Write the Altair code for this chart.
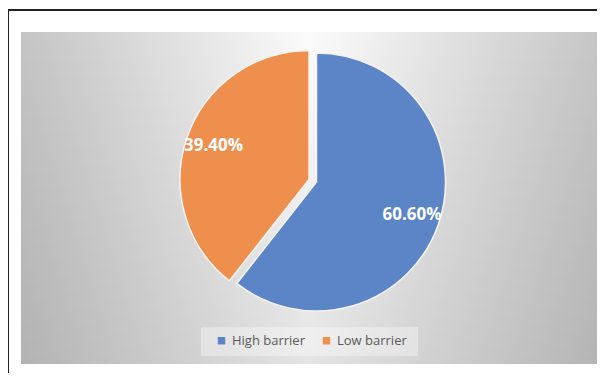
import altair as alt
import pandas as pd

categories = ["High barrier", "Low barrier"]
values = [60.6, 39.4]
colors = ["#5b85c6", "#ef8f4e"]

df = pd.DataFrame({"category": categories, "value": values})
one = pd.DataFrame({"k": [0]})

W, H = 589, 363
R = 129

border_top = alt.Chart(one).mark_rule(color="#222222", strokeWidth=2).encode(
    x=alt.value(-1), x2=alt.value(W + 5), y=alt.value(0)
)
border_left = alt.Chart(one).mark_rule(color="#222222", strokeWidth=2).encode(
    x=alt.value(0), y=alt.value(0), y2=alt.value(H + 5)
)

bg = alt.Chart(one).mark_rect(
    fill=alt.LinearGradient(
        gradient="linear", x1=0, y1=0, x2=1, y2=0,
        stops=[alt.GradientStop(offset=0, color="#c4c4c4"),
               alt.GradientStop(offset=0.5, color="#fbfbfb"),
               alt.GradientStop(offset=1, color="#c6c6c6")]
    )
).encode(x=alt.value(13), x2=alt.value(590), y=alt.value(22), y2=alt.value(354))

shade = alt.Chart(one).mark_rect(
    fill=alt.LinearGradient(
        gradient="linear", x1=0, y1=0, x2=0, y2=1,
        stops=[alt.GradientStop(offset=0, color="rgba(0,0,0,0)"),
               alt.GradientStop(offset=1, color="rgba(0,0,0,0.09)")]
    )
).encode(x=alt.value(13), x2=alt.value(590), y=alt.value(22), y2=alt.value(354))

legend_box = alt.Chart(one).mark_rect(fill="#ffffff", opacity=0.35).encode(
    x=alt.value(193), x2=alt.value(410), y=alt.value(317), y2=alt.value(346)
)

base = alt.Chart(df).transform_stack(
    stack="value", groupby=[], as_=["v0", "v1"],
    sort=[alt.SortField("category", order="ascending")]
).transform_calculate(
    mid="(datum.v0 + datum.v1) / 2",
    label="format(datum.value, '.2f') + '%'"
)

theta_scale = alt.Scale(type="linear", domain=[0, 100], range=[0, 6.283185307179586])
color_enc = alt.Color(
    "category:N",
    scale=alt.Scale(domain=categories, range=colors),
    legend=alt.Legend(
        title=None, orient="none", legendX=207, legendY=324,
        direction="horizontal", symbolType="square", symbolSize=56,
        symbolStrokeWidth=0, labelFont="Open Sans", labelFontSize=13,
        labelColor="#595959", columnPadding=15, labelOffset=4, padding=0,
    ),
)

centers = {"High barrier": (308.5, 172), "Low barrier": (301, 169.5)}

layers = [bg, shade, legend_box, border_top, border_left]
for cat in categories:
    cx, cy = centers[cat]
    sub = base.transform_filter(alt.datum.category == cat)
    arc = sub.mark_arc(outerRadius=R, stroke="#f4f4f4", strokeWidth=1.5).encode(
        theta=alt.Theta("v0:Q", scale=theta_scale),
        theta2="v1:Q",
        color=color_enc,
        x=alt.value(cx), y=alt.value(cy),
    )
    txt = sub.mark_text(font="Open Sans", fontWeight="bold", fontSize=17, color="white").encode(
        theta=alt.Theta("mid:Q", scale=theta_scale),
        radius=alt.value(101),
        text="label:N",
        x=alt.value(cx), y=alt.value(cy),
    )
    layers += [arc, txt]

chart = alt.layer(*layers).resolve_scale(theta="shared").properties(
    width=W, height=H,
    autosize=alt.AutoSizeParams(type="none"),
    padding={"left": 0, "top": 2, "right": 0, "bottom": 0},
    background="white",
).configure_view(stroke=None)

chart.save("out.html", embed_options={"renderer": "svg", "actions": False})
